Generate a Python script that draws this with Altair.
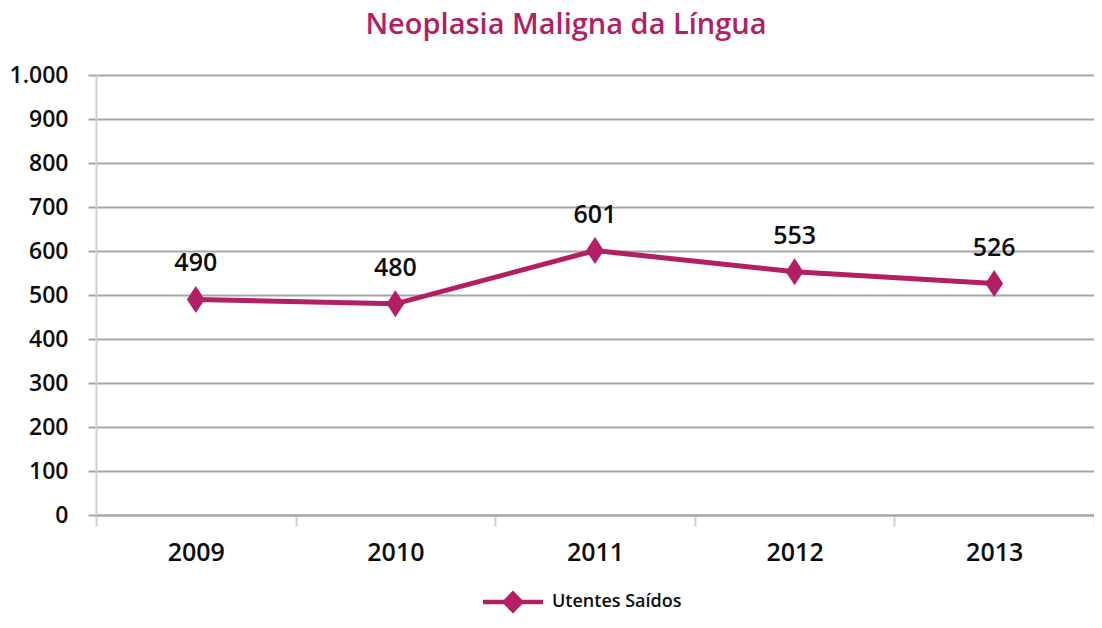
import altair as alt
import pandas as pd

years = ["2009", "2010", "2011", "2012", "2013"]
values = [490, 480, 601, 553, 526]
series = ["Utentes Saídos"] * 5
y_ticks = [0, 100, 200, 300, 400, 500, 600, 700, 800, 900, 1000]

df = pd.DataFrame({"ano": years, "valor": values, "serie": series})

MAG = "#B41E64"
FONT = "Open Sans"
GRID = "#A6A6A6"
LIGHT = "#D0D0D0"
TXT = "#0d0d0d"

diamond = "M0,-1L0.66,0L0,1L-0.66,0Z"
legend_sym = ("M-2.5,-0.19L-0.75,-0.19L0,-0.96L0.75,-0.19L2.5,-0.19L2.5,0.19"
              "L0.75,0.19L0,0.96L-0.75,0.19L-2.5,0.19Z")

x = alt.X("ano:N", title=None, sort=years,
          scale=alt.Scale(paddingInner=0, paddingOuter=0),
          axis=alt.Axis(labelAngle=0, domainColor=GRID, domainWidth=2,
                        tickBand="extent", tickColor=LIGHT, tickWidth=2, tickSize=11,
                        labelPadding=14, labelFont=FONT, labelFontSize=25,
                        labelFontWeight=600, labelColor=TXT, grid=False))
y = alt.Y("valor:Q", title=None,
          scale=alt.Scale(domain=[0, 1000], nice=False),
          axis=alt.Axis(values=y_ticks, grid=True, gridColor=GRID, gridWidth=2,
                        domainColor=LIGHT, domainWidth=2,
                        tickColor=GRID, tickWidth=2, tickSize=8, labelPadding=20,
                        labelFont=FONT, labelFontSize=23, labelFontWeight=600,
                        labelColor=TXT,
                        labelExpr="replace(format(datum.value, ','), ',', '.')"))

color = alt.Color("serie:N", scale=alt.Scale(range=[MAG]),
                  legend=alt.Legend(title=None, orient="none", legendX=405, legendY=515,
                                    symbolType=legend_sym, symbolSize=576,
                                    symbolStrokeWidth=0, symbolFillColor=MAG,
                                    labelFont=FONT, labelFontSize=18, labelFontWeight=600,
                                    labelColor=TXT, labelOffset=27, padding=0))

base = alt.Chart(df).encode(x=x, y=y)

line = base.mark_line(strokeWidth=5, color=MAG).encode(color=color)
pts = base.mark_point(shape=diamond, size=729, filled=True, opacity=1, color=MAG)
labels = base.mark_text(dy=-36, baseline="middle", font=FONT, fontSize=25,
                        fontWeight=600, color=TXT).encode(text="valor:Q")

chart = alt.layer(line, pts, labels).properties(
    width=998, height=440,
    title=alt.TitleParams("Neoplasia Maligna da Língua", font=FONT, fontSize=29,
                          fontWeight=600, color=MAG, dx=-29, offset=24),
    autosize=alt.AutoSizeParams(type="none"),
    padding={"left": 88, "top": 67, "right": 0, "bottom": 102},
).configure_view(stroke=None)

chart.save("out.html", embed_options={"renderer": "svg", "actions": False})
